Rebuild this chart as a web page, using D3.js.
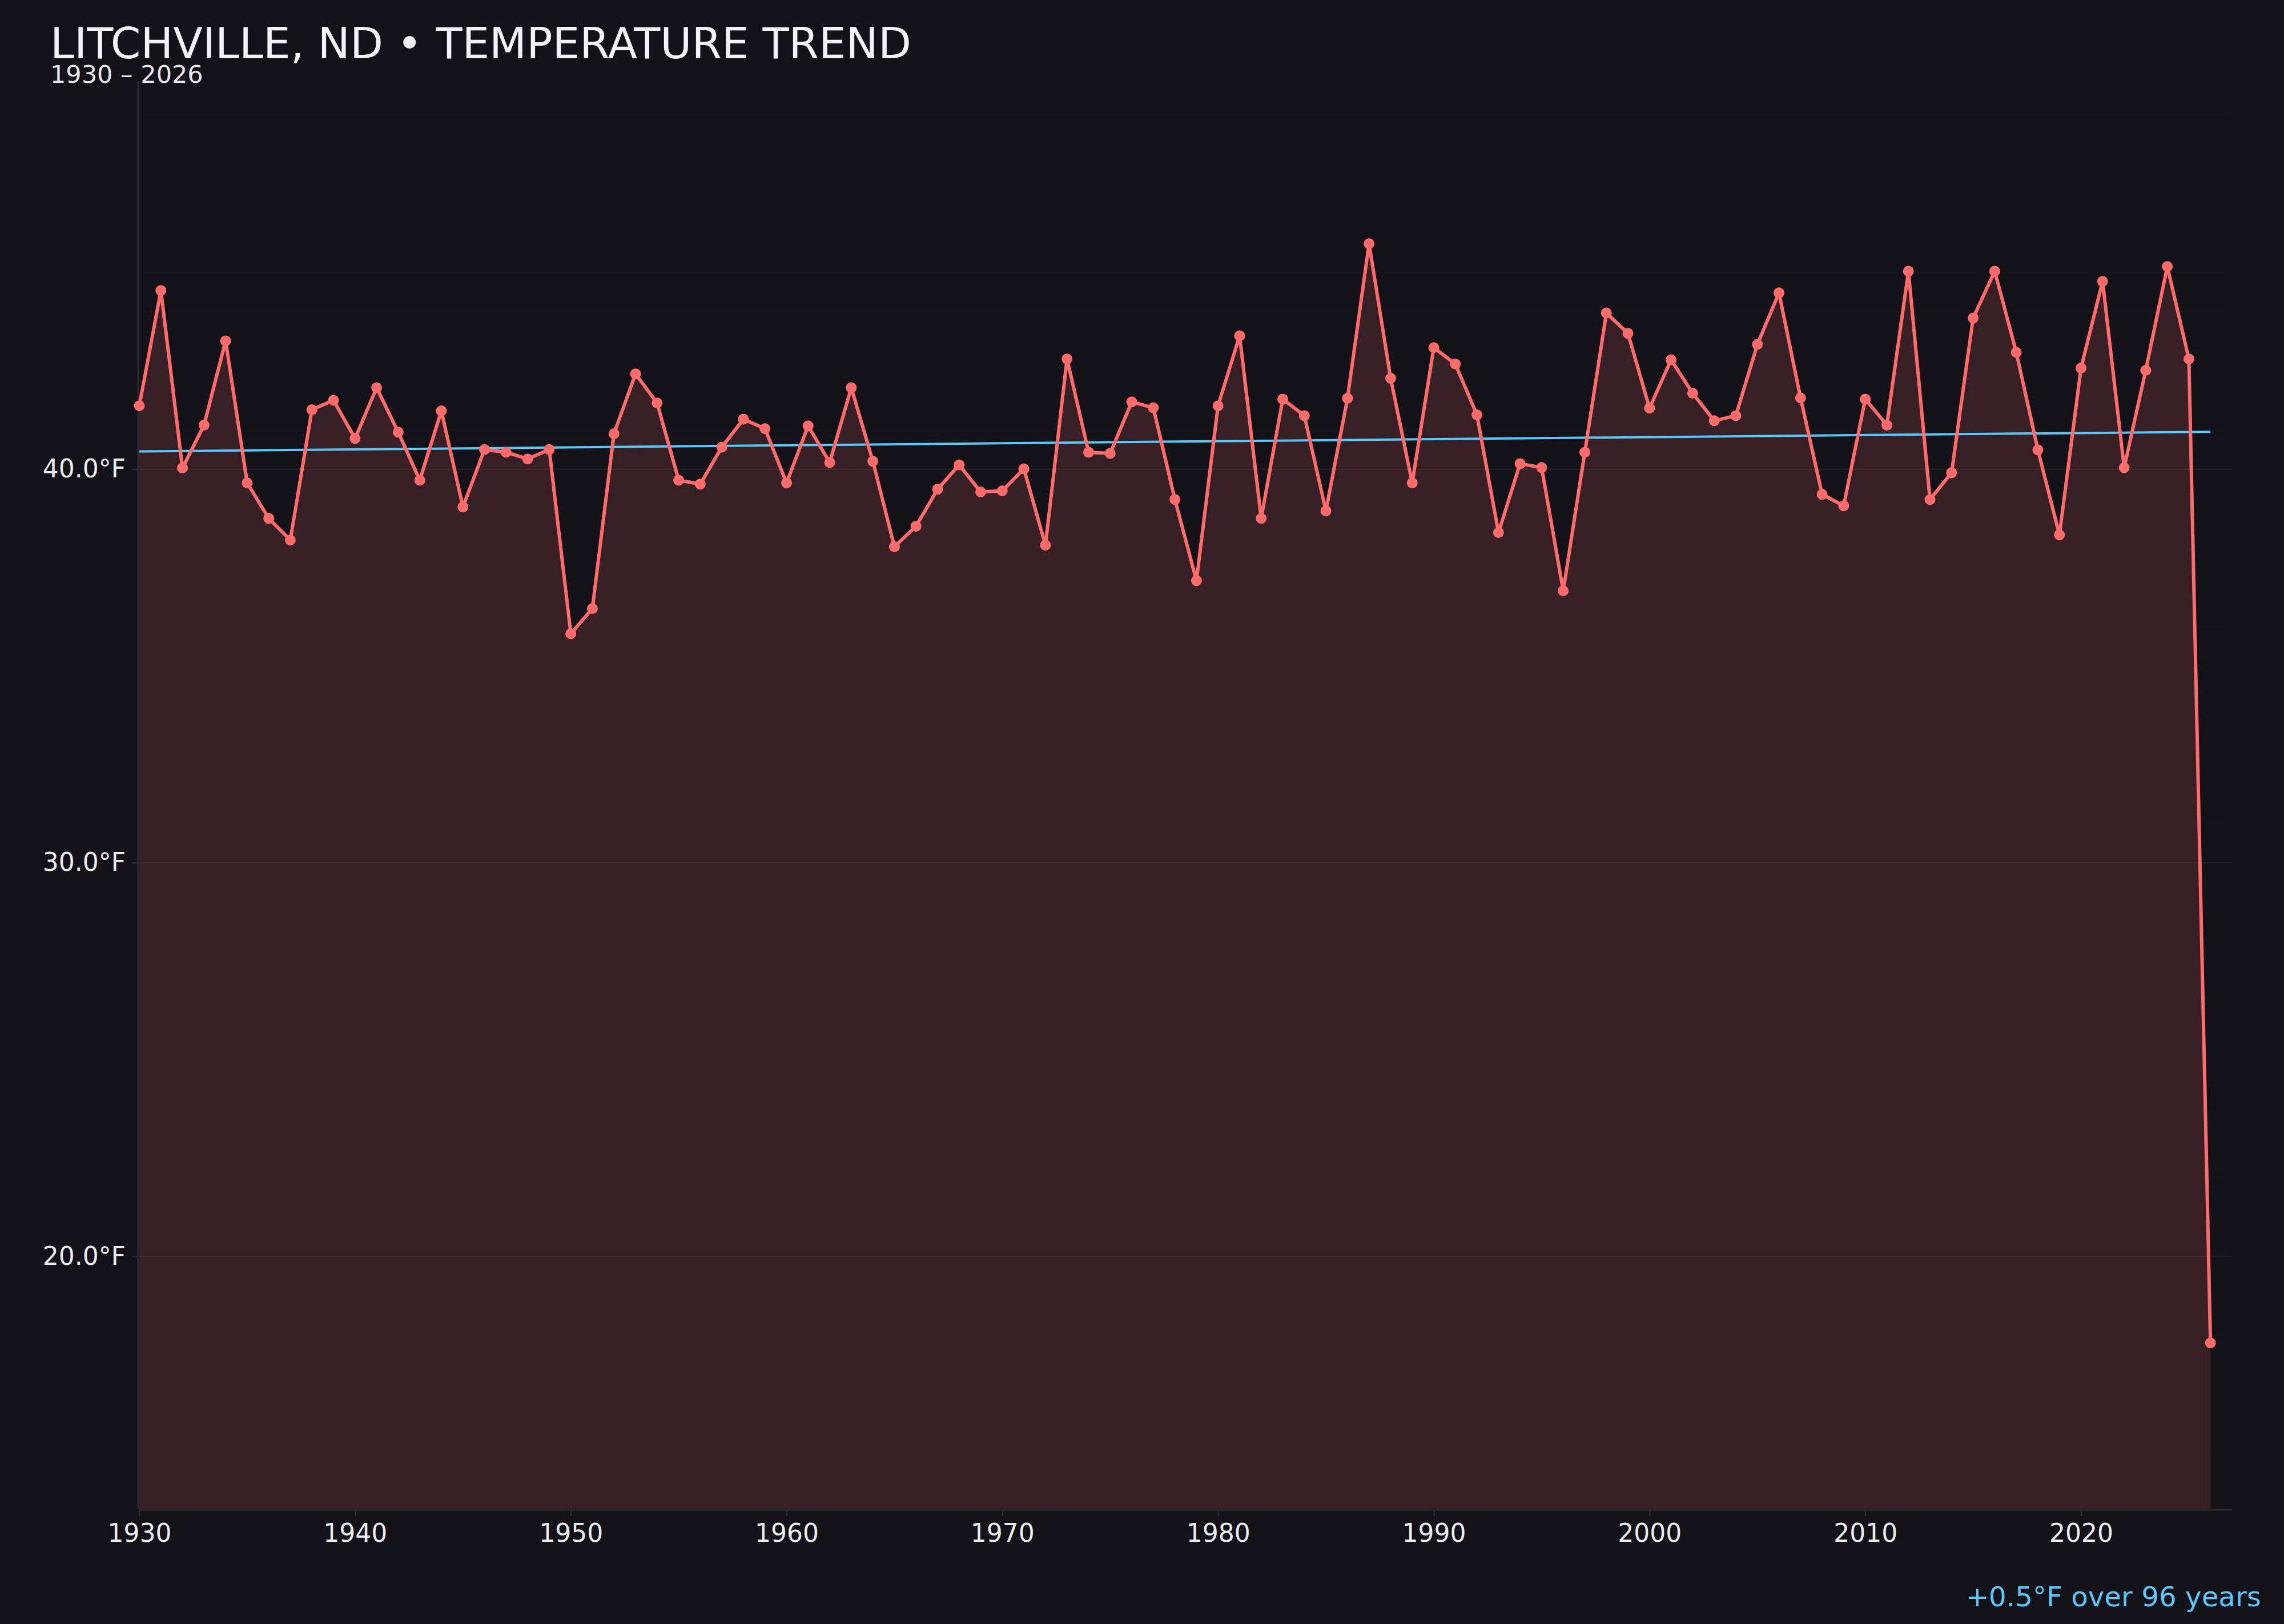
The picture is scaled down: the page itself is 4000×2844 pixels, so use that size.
<!DOCTYPE html>
<html><head><meta charset="utf-8">
<script src="https://cdn.jsdelivr.net/npm/d3@7"></script>
<style>html,body{margin:0;padding:0;background:#131219;} svg{display:block}</style>
</head><body><svg id="c" width="4000" height="2844"></svg>
<script>
const years = [1930,1931,1932,1933,1934,1935,1936,1937,1938,1939,1940,1941,1942,1943,1944,1945,1946,1947,1948,1949,
1950,1951,1952,1953,1954,1955,1956,1957,1958,1959,1960,1961,1962,1963,1964,1965,1966,1967,1968,1969,
1970,1971,1972,1973,1974,1975,1976,1977,1978,1979,1980,1981,1982,1983,1984,1985,1986,1987,1988,1989,
1990,1991,1992,1993,1994,1995,1996,1997,1998,1999,2000,2001,2002,2003,2004,2005,2006,2007,2008,2009,
2010,2011,2012,2013,2014,2015,2016,2017,2018,2019,2020,2021,2022,2023,2024,2025,2026];
const temps = [41.61,44.54,40.03,41.12,43.26,39.65,38.75,38.20,41.51,41.75,40.78,42.07,40.94,39.72,41.48,39.04,40.50,40.43,40.26,40.50,
35.82,36.46,40.90,42.42,41.68,39.72,39.62,40.56,41.27,41.03,39.65,41.10,40.17,42.07,40.20,38.03,38.55,39.49,40.11,39.42,
39.45,40.01,38.07,42.80,40.43,40.40,41.71,41.56,39.23,37.17,41.61,43.39,38.75,41.78,41.36,38.94,41.80,45.73,42.31,39.65,
43.09,42.67,41.38,38.39,40.14,40.04,36.91,40.43,43.97,43.45,41.55,42.78,41.93,41.23,41.36,43.17,44.48,41.81,39.36,39.07,
41.78,41.12,45.03,39.23,39.91,43.84,45.03,42.97,40.49,38.33,42.57,44.77,40.04,42.51,45.15,42.80,17.80];
const trendYears = [1930, 2026];
const trendValues = [40.45, 40.95];
const xTicks = [1930,1940,1950,1960,1970,1980,1990,2000,2010,2020];
const yTicks = [20,30,40];
const minorGrid = d3.range(14, 50);
const titleText = "LITCHVILLE, ND \u2022 TEMPERATURE TREND";
const subtitleText = "1930 \u2013 2026";
const noteText = "+0.5\u00B0F over 96 years";

(function () {
const W = 4000, H = 2844;
const pL = 244, pR = 3909, pT = 142, pB = 2642;
const svg = d3.select("#c");
const font = "DejaVu Sans, Verdana, sans-serif";

svg.append("rect").attr("width", W).attr("height", H).attr("fill", "#131219");

const x = d3.scaleLinear().domain([1930, 2027]).range([pL, pR]);
const y = d3.scaleLinear().domain([13.59, 49.86]).range([pB, pT]);

const data = years.map((yr, i) => ({yr, v: temps[i]}));

// minor faint grid
svg.append("g").selectAll("line").data(minorGrid).join("line")
  .attr("x1", pL).attr("x2", pR)
  .attr("y1", d => y(d)).attr("y2", d => y(d))
  .attr("stroke", "#ffffff").attr("stroke-opacity", 0.012).attr("stroke-width", 2);

// major grid
svg.append("g").selectAll("line").data(yTicks).join("line")
  .attr("x1", pL).attr("x2", pR)
  .attr("y1", d => y(d)).attr("y2", d => y(d))
  .attr("stroke", "#ffffff").attr("stroke-opacity", 0.05).attr("stroke-width", 2.5);

// area
svg.append("path").datum(data)
  .attr("d", d3.area().x(d => x(d.yr)).y0(pB).y1(d => y(d.v)))
  .attr("fill", "#ff6b6b").attr("fill-opacity", 0.15);

// y axis
const yAxis = svg.append("g").attr("transform", `translate(${pL - 2},0)`)
  .call(d3.axisLeft(y).tickValues(yTicks).tickSize(11).tickPadding(11).tickFormat(d => d.toFixed(1) + "\u00B0F"));
yAxis.select(".domain").attr("stroke", "#2c2c36").attr("stroke-width", 3).attr("d", `M0,${pT}V${pB}`);
yAxis.selectAll(".tick line").attr("stroke", "#2c2c36").attr("stroke-width", 2.5);
yAxis.selectAll(".tick text").attr("fill", "#ececf1").attr("font-family", font).attr("font-size", 44);

// x axis
const xAxis = svg.append("g").attr("transform", `translate(0,${pB + 2})`)
  .call(d3.axisBottom(x).tickValues(xTicks).tickSize(11).tickPadding(14).tickFormat(d3.format("d")));
xAxis.select(".domain").attr("stroke", "#2c2c36").attr("stroke-width", 3).attr("d", `M${pL},0H${pR}`);
xAxis.selectAll(".tick line").attr("stroke", "#2c2c36").attr("stroke-width", 2.5);
xAxis.selectAll(".tick text").attr("fill", "#ececf1").attr("font-family", font).attr("font-size", 44);

// trend
svg.append("path").datum(trendYears.map((yr, i) => ({yr, v: trendValues[i]})))
  .attr("d", d3.line().x(d => x(d.yr)).y(d => y(d.v)))
  .attr("fill", "none").attr("stroke", "#5ac8fa").attr("stroke-width", 4);

// line
svg.append("path").datum(data)
  .attr("d", d3.line().x(d => x(d.yr)).y(d => y(d.v)))
  .attr("fill", "none").attr("stroke", "#ff6b6b").attr("stroke-width", 6).attr("stroke-linejoin", "round");

// dots
svg.append("g").selectAll("circle").data(data).join("circle")
  .attr("cx", d => x(d.yr)).attr("cy", d => y(d.v)).attr("r", 9.5)
  .attr("fill", "#ff6b6b");

// titles
svg.append("text").attr("x", 88).attr("y", 102).text(titleText)
  .attr("fill", "#f2f2f7").attr("font-family", font).attr("font-size", 75.4);
svg.append("text").attr("x", 88).attr("y", 145).text(subtitleText)
  .attr("fill", "#e6e6ec").attr("font-family", font).attr("font-size", 43);

// note
svg.append("text").attr("x", 3960).attr("y", 2813).attr("text-anchor", "end").text(noteText)
  .attr("fill", "#5ac8fa").attr("font-family", font).attr("font-size", 48.3);
})();
</script></body></html>
